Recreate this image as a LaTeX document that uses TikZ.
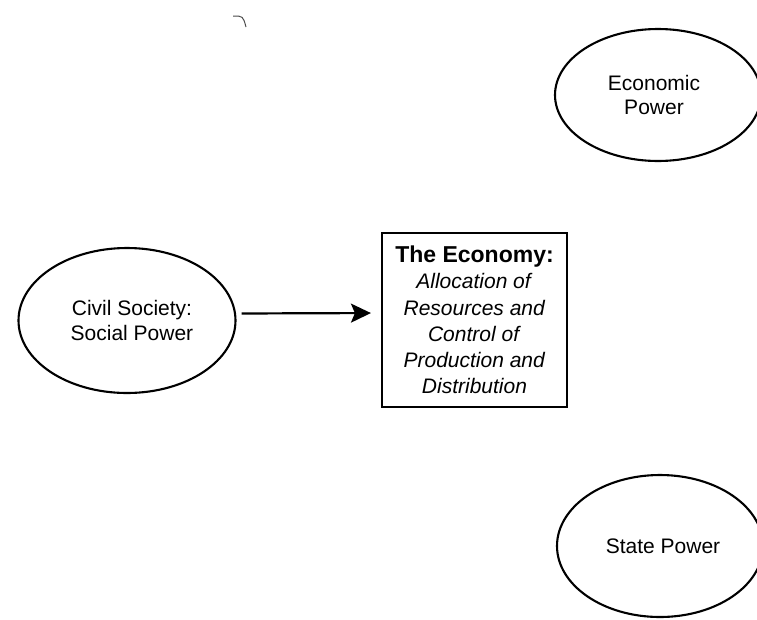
\documentclass[tikz,border=0pt]{standalone}
\usepackage{fontspec}
\setmainfont{Liberation Sans}
\usetikzlibrary{shapes.geometric,arrows.meta}
\tikzset{
  powerell/.style={draw=black, ellipse, line width=2.1pt, inner sep=0pt, align=center,
    font=\fontsize{21}{24.5}\selectfont},
  econbox/.style={draw=black, rectangle, line width=2.1pt, inner sep=0pt, align=center,
    minimum width=185pt, minimum height=174pt, font=\fontsize{21}{26.3}\selectfont},
  arr/.style={line width=2.2pt, -{Stealth[length=20pt,width=19pt,inset=4pt]}}
}
\begin{document}
\begin{tikzpicture}[x=1pt,y=-1pt]
\useasboundingbox (0,0) rectangle (757,619);
\fill[white] (0,0) rectangle (757,619);
% small stray mark at top
\draw[black!70, line width=1pt] (233,16) .. controls (243,16) .. (246,27);
\node[powerell, minimum width=217pt, minimum height=145pt] (civil) at (127,320.5)
  {\hspace*{10pt}Civil Society:\\\hspace*{10pt}Social Power};
\node[econbox] (econ) at (474.5,320)
  {{\fontsize{23}{26.3}\selectfont\textbf{The Economy:}}\\\textit{Allocation of}\\\textit{Resources and}\\\textit{Control of}\\\textit{Production and}\\\textit{Distribution}};
\node[powerell, minimum width=206pt, minimum height=132pt] (ecopow) at (658,95)
  {Economic\hspace*{8pt}\\Power\hspace*{8pt}};
\node[powerell, minimum width=206pt, minimum height=142pt] (state) at (660,546)
  {\hspace*{6pt}State Power};
\draw[arr, shorten <=5pt, shorten >=10pt] ([yshift=7pt]civil.east) -- ([yshift=7pt]econ.west);
\end{tikzpicture}
\end{document}
